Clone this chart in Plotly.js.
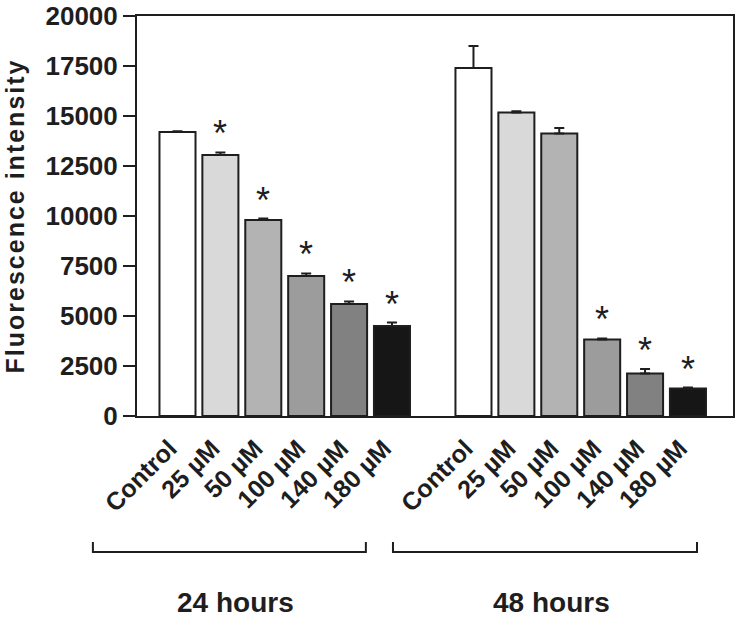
<!DOCTYPE html>
<html>
<head>
<meta charset="utf-8">
<script src="https://cdn.plot.ly/plotly-3.0.1.min.js"></script>
<style>
  body { margin: 0; background: #fff; }
  .ytitle { letter-spacing: 2px; }
</style>
</head>
<body>
<div id="chart" style="width:740px;height:620px;"></div>
<script>
// doses for each time point
let doses = ['Control', '25 µM', '50 µM', '100 µM', '140 µM', '180 µM'];
let groups = ['24 hours', '48 hours'];

// means and SEM
let mean24 = [14200, 13050, 9800, 7000, 5600, 4500];
let err24 = [40, 130, 70, 130, 130, 170];
let mean48 = [17400, 15180, 14130, 3820, 2120, 1370];
let err48 = [1100, 60, 270, 60, 230, 50];

// significant vs control (asterisk)
let sig24 = [false, true, true, true, true, true];
let sig48 = [false, false, false, true, true, true];

let doseColors = ['#ffffff', '#d9d9d9', '#b3b3b3', '#9b9c9b', '#808180', '#161616'];

let groupOffset = 6.9;
let ink = '#1e1e1e';
let font = 'Arial, "Liberation Sans", sans-serif';

let xs = [], ys = [], es = [], cols = [], tvals = [], ttext = [];
let annotations = [];
[mean24, mean48].forEach(function (means, g) {
    let errs = g == 0 ? err24 : err48;
    let sig = g == 0 ? sig24 : sig48;
    for (i = 0; i < means.length; i++) {
        let xpos = g * groupOffset + i;
        xs.push(xpos);
        ys.push(means[i]);
        es.push(errs[i]);
        cols.push(doseColors[i]);
        tvals.push(xpos);
        ttext.push(doses[i]);
        if (sig[i]) {
            annotations.push({
                x: xpos, y: means[i] + errs[i], xref: 'x', yref: 'y',
                text: '*', showarrow: false, yanchor: 'bottom', yshift: -4,
                font: {family: font, size: 36, color: ink}
            });
        }
    }
});

// group labels under the brackets
let groupCenters = [0.166, 0.695];
groups.forEach(function (g, k) {
    annotations.push({
        x: groupCenters[k], y: -0.465, xref: 'paper', yref: 'paper',
        text: g, showarrow: false, xanchor: 'center', yanchor: 'middle',
        font: {family: font, size: 28, weight: 'bold', color: ink}
    });
});

// brackets (paper coords)
let brackets = [[-0.074, 0.384], [0.4295, 0.9396]];
let shapes = [];
brackets.forEach(function (b) {
    shapes.push({
        type: 'path', xref: 'paper', yref: 'paper',
        path: 'M ' + b[0] + ' -0.315 L ' + b[0] + ' -0.34 L ' + b[1] + ' -0.34 L ' + b[1] + ' -0.315',
        line: {color: ink, width: 2}
    });
});

let trace = {
    type: 'bar',
    x: xs,
    y: ys,
    marker: {color: cols, line: {color: ink, width: 2}},
    error_y: {
        type: 'data', symmetric: false, array: es,
        arrayminus: es.map(function () { return 0; }),
        color: ink, thickness: 2, width: 5
    },
    hoverinfo: 'y'
};

let layout = {
    width: 740,
    height: 620,
    margin: {l: 137, r: 7, t: 16, b: 204},
    showlegend: false,
    bargap: 0.16,
    plot_bgcolor: '#fff',
    paper_bgcolor: '#fff',
    font: {family: font, color: ink},
    xaxis: {
        range: [-0.944, 12.95],
        tickmode: 'array',
        tickvals: tvals,
        ticktext: ttext,
        tickangle: -45,
        ticks: '',
        ticklabelshift: -8,
        ticklabelstandoff: 6,
        tickfont: {family: font, size: 25, weight: 'bold', color: ink},
        showline: true, linecolor: ink, linewidth: 2, mirror: true,
        showgrid: false, zeroline: false
    },
    yaxis: {
        range: [0, 20000],
        tick0: 0,
        dtick: 2500,
        tickformat: 'd',
        ticks: 'outside',
        ticklen: 12,
        tickwidth: 2,
        tickcolor: ink,
        tickfont: {family: font, size: 26, weight: 'bold', color: ink},
        showline: true, linecolor: ink, linewidth: 2, mirror: true,
        showgrid: false, zeroline: false,
        title: {text: 'Fluorescence intensity', standoff: 14,
                font: {family: font, size: 25, weight: 'bold', color: ink}}
    },
    annotations: annotations,
    shapes: shapes
};

Plotly.newPlot('chart', [trace], layout, {displayModeBar: false, staticPlot: true});
</script>
</body>
</html>
